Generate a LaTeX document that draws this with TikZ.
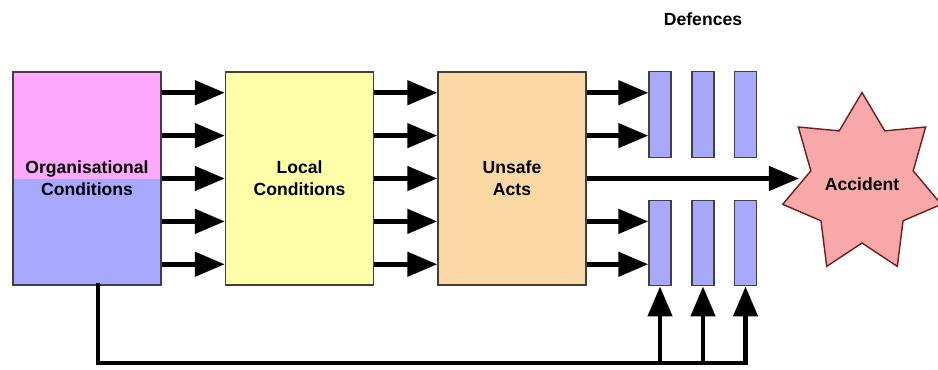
\documentclass[tikz,border=0pt]{standalone}
\usepackage{fontspec}
\setmainfont{Liberation Sans}
\usetikzlibrary{shapes.geometric, arrows.meta, positioning, calc}

\definecolor{orgtop}{RGB}{255,168,255}
\definecolor{orgbot}{RGB}{168,168,255}
\definecolor{localc}{RGB}{255,255,170}
\definecolor{unsafec}{RGB}{252,216,164}
\definecolor{accc}{RGB}{248,168,168}
\definecolor{accline}{RGB}{110,30,30}

\tikzset{
	box/.style={draw=black!75, line width=0.8pt, minimum width=2.96cm, minimum height=4.26cm, align=center, font=\fontsize{10}{12.5}\selectfont\bfseries},
	barrier/.style={draw=black!75, line width=0.8pt, fill=orgbot, minimum width=0.44cm, minimum height=1.71cm, inner sep=0pt},
	flow/.style={line width=2.7pt, -{Triangle[length=0.6cm, width=0.48cm]}},
	accident/.style={star, star points=7, star point ratio=1.55, minimum size=3.6cm, inner sep=0pt, xscale=0.89, transform shape, fill=accc, draw=accline, line width=0.8pt, font=\bfseries}
}

\begin{document}
\begin{tikzpicture}
		\useasboundingbox (0,0) rectangle (18.76,-7.38);

		% Stages
		\node[box, fill=orgbot, path picture={\fill[orgtop] (path picture bounding box.north west) rectangle (path picture bounding box.east);}] (org) at (1.74,-3.57) {Organisational\\Conditions};
		\node[box, fill=localc] (local) at (5.99,-3.57) {Local\\Conditions};
		\node[box, fill=unsafec] (unsafe) at (10.24,-3.57) {Unsafe\\Acts};

		% Defences
		\node[font=\bfseries] (deflabel) at (14.06,-0.38) {Defences};
		\foreach \i/\x in {1/13.2, 2/14.06, 3/14.91} {
			\node[barrier] (top\i) at (\x,-2.29) {};
			\node[barrier] (bot\i) at (\x,-4.86) {};
		}

		% Accident
		\node[accident] (acc) at (17.24,-3.68) {\scalebox{1.124}[1]{Accident}};

		% Flows between stages
		\foreach \k in {1,...,5} {
			\coordinate (o\k) at ($(org.north east)!{(\k-0.5)/5}!(org.south east)$);
			\coordinate (l\k) at ($(local.north east)!{(\k-0.5)/5}!(local.south east)$);
			\coordinate (u\k) at ($(unsafe.north east)!{(\k-0.5)/5}!(unsafe.south east)$);
			\draw[flow] (o\k) -- (o\k -| local.west);
			\draw[flow] (l\k) -- (l\k -| unsafe.west);
		}
		\draw[flow] (u1) -- (u1 -| top1.west);
		\draw[flow] (u2) -- (u2 -| top1.west);
		\draw[flow] (u3) -- (u3 -| acc.west);
		\draw[flow] (u4) -- (u4 -| bot1.west);
		\draw[flow] (u5) -- (u5 -| bot1.west);

		% Feedback to defences
		\coordinate (fb) at (1.96,-7.26);
		\draw[line width=2.7pt, line cap=rect] (fb |- org.south) -- (fb) -- (fb -| bot3.south);
		\foreach \i in {1,2,3}
			\draw[flow] (fb -| bot\i.south) -- (bot\i.south);
	\end{tikzpicture}
\end{document}
